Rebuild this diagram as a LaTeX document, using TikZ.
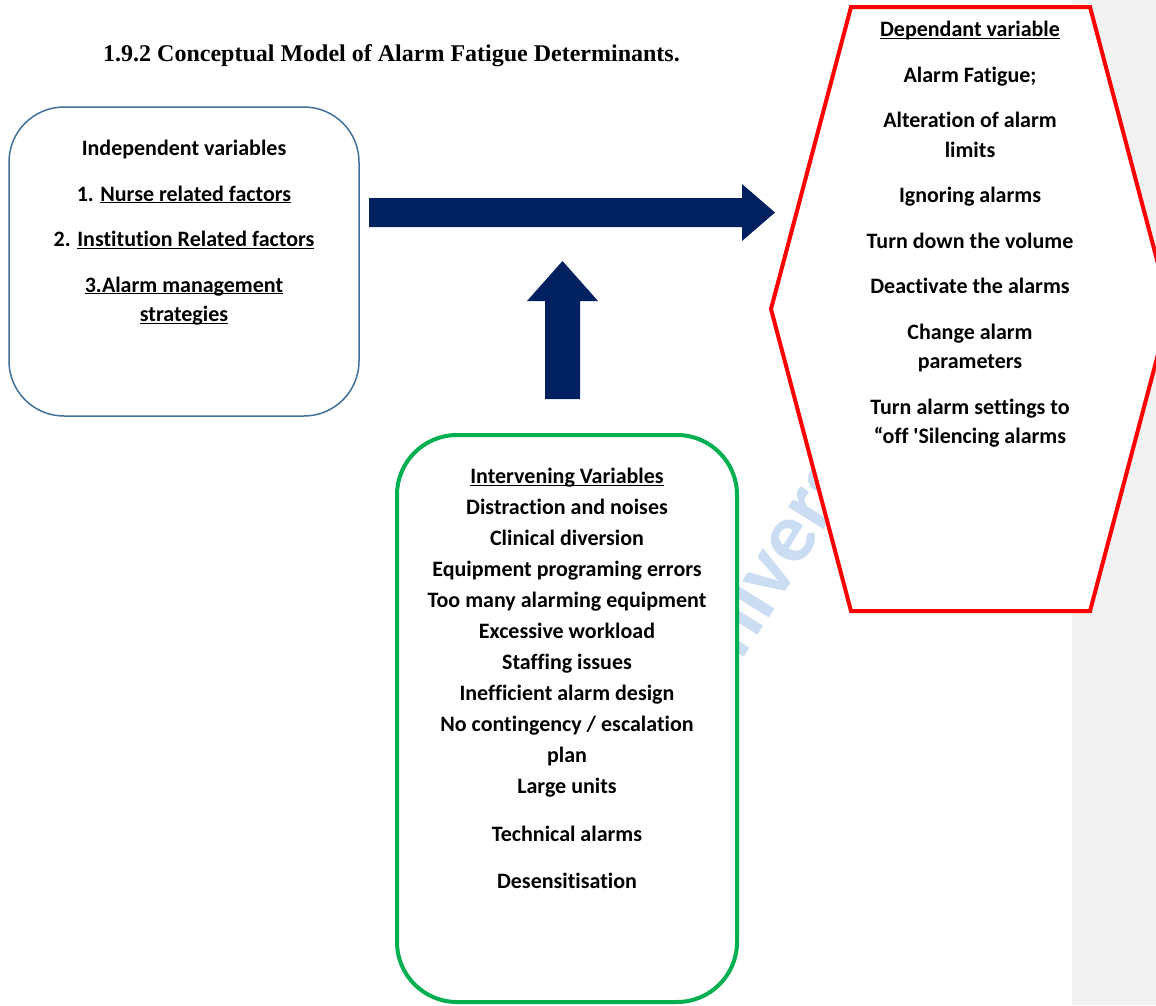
\documentclass[tikz,border=0pt]{standalone}
\usepackage{fontspec}
\setmainfont{Carlito}[Ligatures={TeX,NoCommon}]
\newfontfamily\titlefont{Liberation Serif}
\usetikzlibrary{positioning}

\definecolor{navy}{HTML}{002060}
\definecolor{boxblue}{HTML}{41719C}
\definecolor{boxgreen}{HTML}{00B050}
\definecolor{stripgrey}{HTML}{F2F2F2}
\definecolor{markblue}{HTML}{CBDDF2}

\newcommand{\undl}[1]{\underline{\raisebox{0pt}[\height][0pt]{#1}}}

\tikzset{
  bodytext/.style={font=\bfseries\fontsize{22}{29.5}\selectfont, align=center, inner sep=0pt, anchor=north},
  varbox/.style={draw, fill=white, inner sep=0pt},
}

\begin{document}
\begin{tikzpicture}[x=1pt,y=-1pt]
\useasboundingbox (0,0) rectangle (1156,1005);
\fill[white] (0,0) rectangle (1156,1005);
\fill[stripgrey] (1072,0) rectangle (1156,1005);

% watermark behind the boxes
\node[text=markblue, font=\bfseries\fontsize{86}{86}\selectfont, rotate=58, inner sep=0pt] (mark) at (788,543) {University};

\node[font=\titlefont\bfseries\fontsize{24}{24}\selectfont, anchor=base west, inner sep=0pt] (title) at (103,61) {1.9.2 Conceptual Model of Alarm Fatigue Determinants.};

% independent variables
\node[varbox, draw=boxblue, line width=1.5pt, rounded corners=55pt, minimum width=350pt, minimum height=309pt] (indep) at (184,261.5) {};
\node[bodytext] (indeptext) at (184,140) {Independent variables\\[16pt]
  1. \undl{Nurse related factors}\\[16pt]
  2. \undl{Institution Related factors}\\[16pt]
  \undl{3.Alarm management}\\
  \undl{strategies}};

% block arrows
\coordinate (htail) at (369,212.5);
\coordinate (htip) at (775,212.5);
\fill[navy] (htail) ++(0,-14.5) -- ++(373,0) -- ++(0,-14) -- (htip) -- ++(-33,28.5) -- ++(0,-14) -- ++(-373,0) -- cycle;

\coordinate (vtail) at (562.5,399);
\coordinate (vtip) at (562.5,261);
\fill[navy] (vtail) ++(-17.5,0) -- ++(0,-98) -- ++(-18,0) -- (vtip) -- ++(35.5,40) -- ++(-18,0) -- ++(0,98) -- cycle;

% intervening variables
\node[varbox, draw=boxgreen, line width=4pt, rounded corners=60pt, minimum width=340pt, minimum height=567pt] (interv) at (567,718.5) {};
\node[bodytext, font=\bfseries\fontsize{22}{31}\selectfont] (intervtext) at (567,468) {\undl{Intervening Variables}\\
  Distraction and noises\\
  Clinical diversion\\
  Equipment programing errors\\
  Too many alarming equipment\\
  Excessive workload\\
  Staffing issues\\
  Inefficient alarm design\\
  No contingency / escalation\\
  plan\\
  Large units\\[17pt]
  Technical alarms\\[16pt]
  Desensitisation};

% dependant variable
\draw[red, line width=4pt, fill=white, line join=miter] (851,7) -- (1090,7) -- (1170,309) -- (1090,611) -- (851,611) -- (771,309) -- cycle;
\node[bodytext] (deptext) at (970,21) {\undl{Dependant variable}\\[16pt]
  Alarm Fatigue;\\[16pt]
  Alteration of alarm\\
  limits\\[16pt]
  Ignoring alarms\\[16pt]
  Turn down the volume\\[16pt]
  Deactivate the alarms\\[16pt]
  Change alarm\\
  parameters\\[16pt]
  Turn alarm settings to\\
  “off \textquotesingle Silencing alarms};
\end{tikzpicture}
\end{document}
